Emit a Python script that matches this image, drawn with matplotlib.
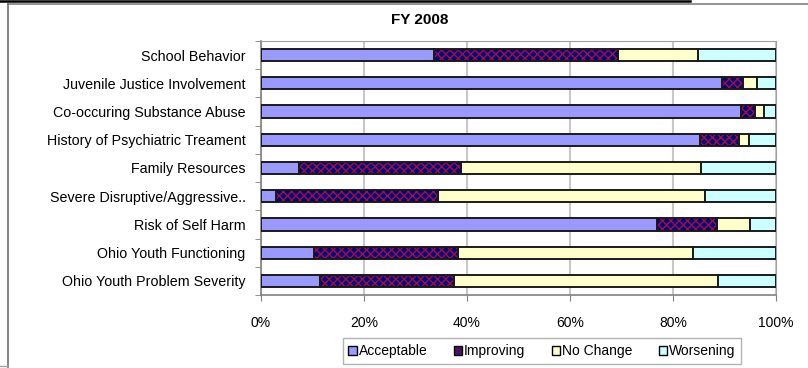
import matplotlib.pyplot as plt
from matplotlib.lines import Line2D
from matplotlib.patches import Patch
import numpy as np

plt.rcParams['font.family'] = ['Liberation Sans', 'DejaVu Sans']

# Share of youth in each outcome group, top row first (percent)
measures = ["School Behavior", "Juvenile Justice Involvement", "Co-occuring Substance Abuse",
            "History of Psychiatric Treament", "Family Resources", "Severe Disruptive/Aggressive..",
            "Risk of Self Harm", "Ohio Youth Functioning", "Ohio Youth Problem Severity"]
acceptable = [33.6, 89.6, 93.2, 85.2, 7.4, 2.9, 76.8, 10.3, 11.4]
improving = [35.8, 4.0, 2.7, 7.7, 31.5, 31.4, 11.8, 27.9, 26.0]
no_change = [15.4, 2.7, 1.8, 1.9, 46.6, 52.0, 6.3, 45.7, 51.4]
worsening = [15.2, 3.7, 2.3, 5.2, 14.5, 13.7, 5.1, 16.1, 11.2]
x_ticks = [0, 20, 40, 60, 80, 100]

fig = plt.figure(figsize=(8.08, 3.68), dpi=100)
ax = fig.add_axes([261 / 808, 1 - 295 / 368, 515 / 808, 254 / 368])

y = np.arange(len(measures))
h = 0.43
left = np.zeros(len(measures))

# plain fills
ax.barh(y, acceptable, left=left, height=h, color="#9999FF", edgecolor="#1A1A1A", linewidth=1.4, zorder=3)
left += acceptable
# checkered "improving" segment: red hatch on navy, then a black outline
ax.barh(y, improving, left=left, height=h, color="#000080", edgecolor="#A0103A", hatch="xxxx",
        linewidth=0, zorder=3)
ax.barh(y, improving, left=left, height=h, fill=False, edgecolor="#1A1A1A", linewidth=1.4, zorder=4)
left += improving
ax.barh(y, no_change, left=left, height=h, color="#FFFFCC", edgecolor="#1A1A1A", linewidth=1.4, zorder=3)
left += no_change
ax.barh(y, worsening, left=left, height=h, color="#CCFFFF", edgecolor="#1A1A1A", linewidth=1.4, zorder=3)

ax.set_xlim(0, 100)
ax.set_ylim(len(measures) - 0.5, -0.5)
ax.set_xticks(x_ticks)
ax.set_xticklabels([f"{t}%" for t in x_ticks], fontsize=10)
ax.set_yticks(y)
ax.set_yticklabels(measures, fontsize=10.3)
ax.tick_params(axis="y", length=0, pad=11)
ax.set_yticks(np.arange(len(measures) + 1) - 0.5, minor=True)
ax.tick_params(axis="y", which="minor", length=4, direction="out", color="#808080")
ax.tick_params(axis="x", length=4, direction="out", color="#808080", pad=11)

ax.grid(axis="x", color="#C8C8C8", linewidth=1.5, zorder=0)
for side in ["top", "right"]:
    ax.spines[side].set_color("#A0A0A0")
for side in ["left", "bottom"]:
    ax.spines[side].set_color("#808080")
    ax.spines[side].set_linewidth(1.2)

fig.text(420 / 808, 1 - 20 / 368, "FY 2008", ha="center", va="center", fontsize=11, fontweight="bold")

handles = [
    Patch(facecolor="#9999FF", edgecolor="black", label="Acceptable"),
    Patch(facecolor="#4A1266", edgecolor="black", label="Improving"),
    Patch(facecolor="#FFFFCC", edgecolor="black", label="No Change"),
    Patch(facecolor="#CCFFFF", edgecolor="black", label="Worsening"),
]
leg = fig.legend(handles=handles, loc="center", bbox_to_anchor=(542 / 808, 1 - 351 / 368), ncol=4,
                 fontsize=10, frameon=True, fancybox=False, handlelength=0.6, handleheight=0.6,
                 handletextpad=0.15, columnspacing=1.9, borderpad=0.4, borderaxespad=0)
leg.get_frame().set_edgecolor("#A0A0A0")
leg.get_frame().set_linewidth(1.0)

# outer border pieces around the chart
fig.add_artist(Line2D([0, 690 / 808], [1 - 1 / 368, 1 - 1 / 368], color="black", linewidth=1.8))
fig.add_artist(Line2D([8 / 808, 1], [1 - 4 / 368, 1 - 4 / 368], color="#808080", linewidth=1.2))
fig.add_artist(Line2D([8 / 808, 8 / 808], [0, 1 - 4 / 368], color="#707070", linewidth=1.2))
fig.add_artist(Line2D([0, 8 / 808], [2 / 368, 2 / 368], color="#A0A0A0", linewidth=1.0))

fig.savefig("out.png", dpi=100)
